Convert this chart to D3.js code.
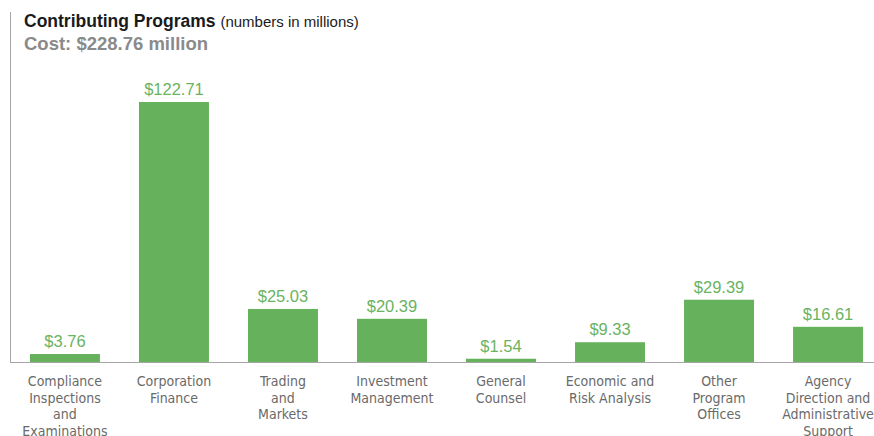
<!DOCTYPE html>
<html>
<head>
<meta charset="utf-8">
<script src="https://cdn.jsdelivr.net/npm/d3@7"></script>
<style>
  body { margin: 0; background: #fff; }
  svg { display: block; }
</style>
</head>
<body>
<div id="chart"></div>
<script>
var programs = [
  ["Compliance", "Inspections", "and", "Examinations"],
  ["Corporation", "Finance"],
  ["Trading", "and", "Markets"],
  ["Investment", "Management"],
  ["General", "Counsel"],
  ["Economic and", "Risk Analysis"],
  ["Other", "Program", "Offices"],
  ["Agency", "Direction and", "Administrative", "Support"]
];
var costs = [3.76, 122.71, 25.03, 20.39, 1.54, 9.33, 29.39, 16.61];
var totalCost = 228.76;

var width = 874, height = 436;
var baseline = 362, plotTop = 102;

var svg = d3.select("#chart")
  .append("svg")
  .attr("width", width)
  .attr("height", height);

var xPositionScale = d3.scaleBand()
  .domain(d3.range(costs.length))
  .range([10, 883])
  .paddingInner(0.358)
  .paddingOuter(0.183);

var yPositionScale = d3.scaleLinear()
  .domain([0, d3.max(costs)])
  .range([baseline, plotTop]);

// left rule
svg.append("line")
  .attr("x1", 10.5).attr("x2", 10.5)
  .attr("y1", 12).attr("y2", baseline)
  .attr("stroke", "#a6a6a6").attr("stroke-width", 1);

svg.selectAll(".bar")
  .data(costs)
  .enter().append("rect")
  .attr("class", "bar")
  .attr("x", function(d, i) { return xPositionScale(i); })
  .attr("y", function(d) { return yPositionScale(d); })
  .attr("width", xPositionScale.bandwidth())
  .attr("height", function(d) { return baseline - yPositionScale(d); })
  .attr("fill", "#66b15c");

svg.append("line")
  .attr("x1", 10).attr("x2", width)
  .attr("y1", baseline + 0.5).attr("y2", baseline + 0.5)
  .attr("stroke", "#a6a6a6").attr("stroke-width", 1);

svg.selectAll(".value")
  .data(costs)
  .enter().append("text")
  .attr("class", "value")
  .attr("x", function(d, i) { return xPositionScale(i) + xPositionScale.bandwidth() / 2; })
  .attr("y", function(d) { return yPositionScale(d) - 7; })
  .attr("text-anchor", "middle")
  .attr("font-family", "'Liberation Sans', Arial, sans-serif")
  .attr("font-size", "16.5px")
  .attr("fill", "#6ab35f")
  .text(function(d) { return "$" + d.toFixed(2); });

var labels = svg.selectAll(".label")
  .data(programs)
  .enter().append("text")
  .attr("class", "label")
  .attr("text-anchor", "middle")
  .attr("font-family", "'DejaVu Sans Condensed', 'DejaVu Sans', sans-serif")
  .attr("font-stretch", "condensed")
  .attr("font-size", "14px")
  .attr("fill", "#6a6a6a");

labels.selectAll("tspan")
  .data(function(d, i) { return d.map(function(line) { return { line: line, i: i }; }); })
  .enter().append("tspan")
  .attr("x", function(d) { return xPositionScale(d.i) + xPositionScale.bandwidth() / 2; })
  .attr("y", function(d, j) { return 386 + j * 16.7; })
  .text(function(d) { return d.line; });

// title
var title = svg.append("text")
  .attr("x", 24).attr("y", 27)
  .attr("font-family", "'Liberation Sans', Arial, sans-serif")
  .attr("fill", "#1a1a1a");
title.append("tspan")
  .attr("font-size", "17.5px").attr("font-weight", "bold")
  .text("Contributing Programs ");
title.append("tspan")
  .attr("font-size", "15px")
  .text("(numbers in millions)");

svg.append("text")
  .attr("x", 24).attr("y", 50)
  .attr("font-family", "'Liberation Sans', Arial, sans-serif")
  .attr("font-size", "18.5px").attr("font-weight", "bold")
  .attr("fill", "#8a8a8a")
  .text("Cost: $" + totalCost.toFixed(2) + " million");
</script>
</body>
</html>
